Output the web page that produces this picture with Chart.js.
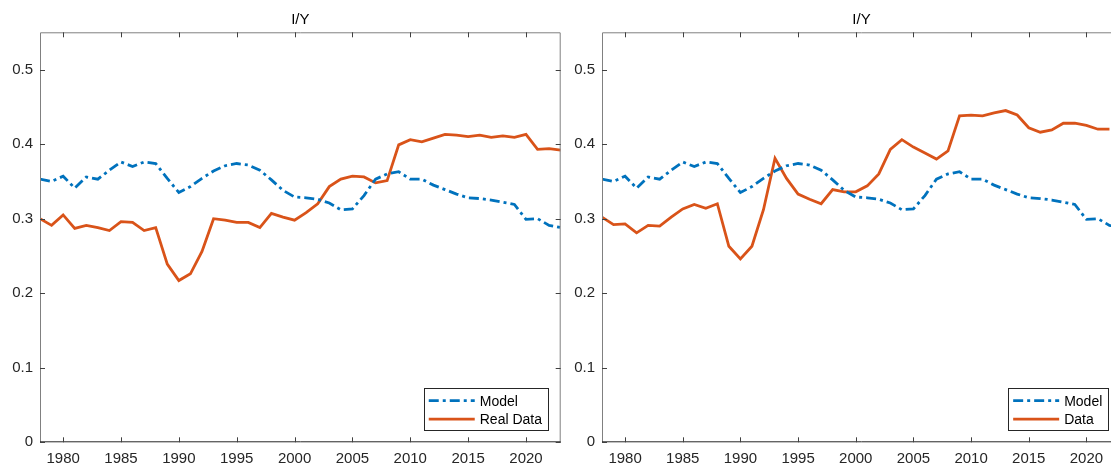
<!DOCTYPE html>
<html>
<head>
<meta charset="utf-8">
<title>I/Y</title>
<script src="https://cdn.jsdelivr.net/npm/chart.js@4.4.0/dist/chart.umd.min.js"></script>
<style>
  html, body { margin: 0; padding: 0; background: #fff; overflow: hidden; width: 1111px; height: 465px; }
  .panel { position: absolute; top: 0; width: 570px; height: 465px; }
  #leftPanel { left: 0; }
  #rightPanel { left: 562px; }
</style>
</head>
<body>
<div class="panel" id="leftPanel"><canvas id="leftChart" width="570" height="465"></canvas></div>
<div class="panel" id="rightPanel"><canvas id="rightChart" width="570" height="465"></canvas></div>
<script>
// data (share of investment in output)
const panelTitle = "I/Y";

const yearsLeft = [1978, 1979, 1980, 1981, 1982, 1983, 1984, 1985, 1986, 1987,
	1988, 1989, 1990, 1991, 1992, 1993, 1994, 1995, 1996, 1997,
	1998, 1999, 2000, 2001, 2002, 2003, 2004, 2005, 2006, 2007,
	2008, 2009, 2010, 2011, 2012, 2013, 2014, 2015, 2016, 2017,
	2018, 2019, 2020, 2021, 2022, 2023];

const yearsRight = [1978, 1979, 1980, 1981, 1982, 1983, 1984, 1985, 1986, 1987,
	1988, 1989, 1990, 1991, 1992, 1993, 1994, 1995, 1996, 1997,
	1998, 1999, 2000, 2001, 2002, 2003, 2004, 2005, 2006, 2007,
	2008, 2009, 2010, 2011, 2012, 2013, 2014, 2015, 2016, 2017,
	2018, 2019, 2020, 2021, 2022];

const modelValues = [0.353, 0.350, 0.357, 0.341, 0.356, 0.353, 0.365, 0.376, 0.370, 0.376,
	0.374, 0.354, 0.335, 0.343, 0.354, 0.364, 0.371, 0.374, 0.372, 0.365,
	0.352, 0.338, 0.329, 0.328, 0.326, 0.321, 0.312, 0.313, 0.331, 0.353,
	0.360, 0.363, 0.353, 0.353, 0.345, 0.339, 0.333, 0.328, 0.327, 0.325,
	0.322, 0.319, 0.299, 0.300, 0.291, 0.288];

const realDataValues = [0.300, 0.291, 0.305, 0.287, 0.291, 0.288, 0.284, 0.296, 0.295, 0.284,
	0.288, 0.239, 0.217, 0.226, 0.256, 0.300, 0.298, 0.295, 0.295, 0.288,
	0.307, 0.302, 0.298, 0.308, 0.320, 0.343, 0.353, 0.357, 0.356, 0.348,
	0.351, 0.399, 0.406, 0.403, 0.408, 0.413, 0.412, 0.410, 0.412, 0.409,
	0.411, 0.409, 0.413, 0.393, 0.394, 0.392];

const dataValues = [0.302, 0.292, 0.293, 0.281, 0.291, 0.290, 0.302, 0.313, 0.319, 0.314,
	0.320, 0.263, 0.246, 0.263, 0.312, 0.381, 0.354, 0.333, 0.326, 0.320,
	0.339, 0.336, 0.336, 0.344, 0.360, 0.393, 0.406, 0.396, 0.388, 0.380,
	0.391, 0.438, 0.439, 0.438, 0.442, 0.445, 0.439, 0.422, 0.416, 0.419,
	0.428, 0.428, 0.425, 0.420, 0.420];

const xTickYears = [1980, 1985, 1990, 1995, 2000, 2005, 2010, 2015, 2020];
const yTickValues = [0, 0.1, 0.2, 0.3, 0.4, 0.5];

const FONT = '"Liberation Sans", Arial, Helvetica, sans-serif';
const BLUE = "#0072BD";
const ORANGE = "#D95319";

function toPoints(years, values) {
	return values.map((v, i) => ({ x: years[i], y: v }));
}

// matlab style box with inward ticks
const axesBox = {
	id: "axesBox",
	afterDatasetsDraw(chart) {
		const { ctx, chartArea: a, scales } = chart;
		const tl = 5;
		ctx.save();
		ctx.lineWidth = 1;
		ctx.strokeStyle = "#808080";
		ctx.beginPath();
		ctx.moveTo(a.left + 0.5, a.bottom);
		ctx.lineTo(a.left + 0.5, a.top + 0.5);
		ctx.lineTo(a.right - 0.5, a.top + 0.5);
		ctx.lineTo(a.right - 0.5, a.bottom);
		ctx.stroke();
		ctx.strokeStyle = "#262626";
		ctx.beginPath();
		ctx.moveTo(a.left, a.bottom - 0.5);
		ctx.lineTo(a.right, a.bottom - 0.5);
		ctx.stroke();

		ctx.strokeStyle = "#404040";
		ctx.beginPath();
		xTickYears.forEach(v => {
			const px = Math.round(scales.x.getPixelForValue(v)) + 0.5;
			ctx.moveTo(px, a.bottom);
			ctx.lineTo(px, a.bottom - tl);
			ctx.moveTo(px, a.top);
			ctx.lineTo(px, a.top + tl);
		});
		yTickValues.forEach(v => {
			const py = Math.round(scales.y.getPixelForValue(v)) + 0.5;
			ctx.moveTo(a.left, py);
			ctx.lineTo(a.left + tl, py);
			ctx.moveTo(a.right, py);
			ctx.lineTo(a.right - tl, py);
		});
		ctx.stroke();
		ctx.restore();
	}
};

// legend box in the lower right corner of the axes
const cornerLegend = {
	id: "cornerLegend",
	afterDraw(chart) {
		const { ctx, chartArea: a } = chart;
		const sets = chart.data.datasets;
		ctx.save();
		ctx.font = "14px " + FONT;
		const textW = Math.max(...sets.map(d => ctx.measureText(d.label).width));
		const sample = 46, pad = 5, rowH = 18.5;
		const w = pad + sample + 5 + textW + 6;
		const h = 42;
		const right = a.right - 12.7, bottom = a.bottom - 12.3;
		const left = right - w, top = bottom - h;
		ctx.fillStyle = "#fff";
		ctx.fillRect(left, top, w, h);
		ctx.strokeStyle = "#262626";
		ctx.lineWidth = 1;
		ctx.strokeRect(Math.round(left) + 0.5, Math.round(top) + 0.5, Math.round(w), Math.round(h));
		sets.forEach((d, i) => {
			const cy = top + 12.7 + i * rowH;
			ctx.beginPath();
			ctx.setLineDash(d.borderDash || []);
			ctx.lineWidth = d.borderWidth;
			ctx.strokeStyle = d.borderColor;
			ctx.moveTo(left + pad, cy);
			ctx.lineTo(left + pad + sample, cy);
			ctx.stroke();
			ctx.setLineDash([]);
			ctx.fillStyle = "#000";
			ctx.textAlign = "left";
			ctx.textBaseline = "middle";
			ctx.fillText(d.label, left + pad + sample + 5, cy + 1);
		});
		ctx.restore();
	}
};

function makePanel(canvasId, modelYears, modelVals, dataYears, dataVals, dataLabel, padRight) {
	const ctx = document.getElementById(canvasId);
	return new Chart(ctx, {
		type: "line",
		data: {
			datasets: [{
				label: "Model",
				data: toPoints(modelYears, modelVals),
				borderColor: BLUE,
				borderWidth: 2.8,
				borderDash: [10, 4, 3, 4],
				pointRadius: 0,
				tension: 0,
				fill: false
			},
			{
				label: dataLabel,
				data: toPoints(dataYears, dataVals),
				borderColor: ORANGE,
				borderWidth: 2.8,
				pointRadius: 0,
				tension: 0,
				fill: false
			}]
		},
		options: {
			responsive: false,
			animation: false,
			devicePixelRatio: 1,
			layout: { padding: { left: 0, right: padRight, top: 0, bottom: 0 } },
			plugins: {
				legend: { display: false },
				tooltip: { enabled: false },
				title: {
					display: true,
					text: panelTitle,
					fullSize: false,
					color: "#000",
					font: { family: FONT, size: 15, weight: "normal", lineHeight: 1.2 },
					padding: { top: 11, bottom: 3.3 }
				}
			},
			scales: {
				x: {
					type: "linear",
					min: 1978,
					max: 2023,
					afterBuildTicks: s => { s.ticks = xTickYears.map(v => ({ value: v })); },
					afterFit: s => { s.height = 22.7; },
					grid: { display: false, drawTicks: false },
					border: { display: false },
					ticks: {
						autoSkip: false,
						maxRotation: 0,
						padding: 8,
						color: "#262626",
						font: { family: FONT, size: 15 },
						callback: v => String(v)
					}
				},
				y: {
					type: "linear",
					min: 0,
					max: 0.55,
					afterBuildTicks: s => { s.ticks = yTickValues.map(v => ({ value: v })); },
					afterFit: s => { s.width = 40; },
					grid: { display: false, drawTicks: false },
					border: { display: false },
					ticks: {
						padding: 7,
						color: "#262626",
						font: { family: FONT, size: 15 },
						callback: v => v === 0 ? "0" : v.toFixed(1)
					}
				}
			}
		},
		plugins: [axesBox, cornerLegend]
	});
}

makePanel("leftChart", yearsLeft, modelValues, yearsLeft, realDataValues, "Real Data", 9.3);
makePanel("rightChart", yearsLeft, modelValues, yearsRight, dataValues, "Data", 11);
</script>
</body>
</html>
